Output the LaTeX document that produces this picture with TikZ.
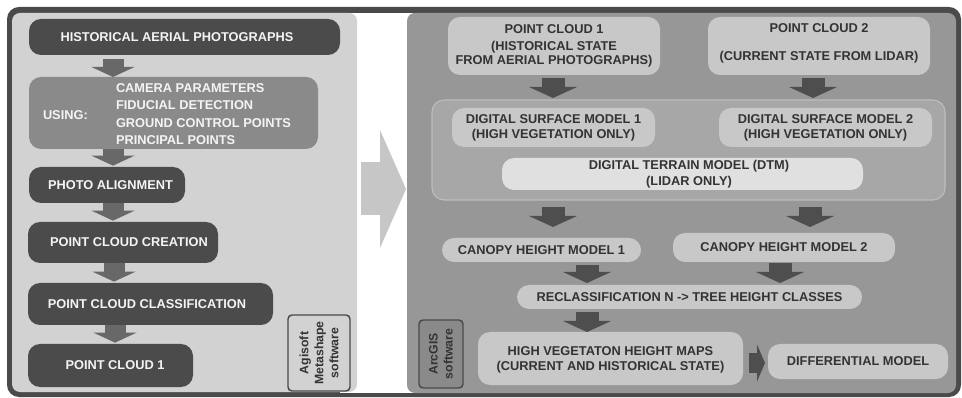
\documentclass[tikz,border=0pt]{standalone}
\usepackage{fontspec}
\setmainfont{Liberation Sans}
\usetikzlibrary{arrows.meta,fit}

\definecolor{frame}{HTML}{4A4A4A}
\definecolor{lpanel}{HTML}{D2D2D2}
\definecolor{rpanel}{HTML}{979797}
\definecolor{dbox}{HTML}{4B4B4B}
\definecolor{mbox}{HTML}{8A8A8A}
\definecolor{larr}{HTML}{686868}
\definecolor{rarr}{HTML}{4E4E4E}
\definecolor{lbox}{HTML}{C8C8C8}
\definecolor{grp}{HTML}{A7A7A7}
\definecolor{grpline}{HTML}{BDBDBD}
\definecolor{dtmfill}{HTML}{E0E0E0}
\definecolor{bigarr}{HTML}{C6C6C6}
\definecolor{ink}{HTML}{333333}
\definecolor{paper}{HTML}{F4F4F4}

\newcommand\fs[1]{\fontsize{9.6}{#1}\selectfont\bfseries}

\begin{document}
\begin{tikzpicture}[x=0.75pt,y=-0.75pt,
  every node/.style={inner sep=0pt,outer sep=0pt},
  darkbox/.style={rounded corners=9pt,fill=dbox},
  litebox/.style={rounded corners=9pt,fill=lbox},
  wtxt/.style={align=center,text=paper,font=\fs{11.5pt}},
  dtxt/.style={align=center,text=ink,font=\fs{11.5pt}},
  tagbox/.style={rounded corners=3pt,draw=frame,line width=1.1pt},
  tagtext/.style={rotate=90,align=center,text=ink,
    font=\fontsize{9.2}{11.25pt}\selectfont\bfseries},
  larrow/.style={larr,line width=15.75pt,
    -{Triangle[width=32.25pt,length=7.5pt,line width=0pt]}},
  rarrow/.style={rarr,line width=17.25pt,
    -{Triangle[width=36pt,length=8.25pt,line width=0pt]}},
  sarrow/.style={rarr,line width=15pt,
    -{Triangle[width=27.75pt,length=6pt,line width=0pt]}},
  bigarrow/.style={bigarr,line width=39.75pt,
    -{Triangle[width=88.5pt,length=19.5pt,line width=0pt]}}]

\useasboundingbox (0,0) rectangle (962,398);

% outer frame and the two panels
\fill[frame,rounded corners=9pt] (7,7) rectangle (961,397);
\fill[white] (340,13) rectangle (425,393);
\node[fit={(12,13)(357,392)},fill=lpanel,rounded corners=6pt] (left) {};
\node[fit={(407,13)(956,393)},fill=rpanel,rounded corners=6pt] (right) {};

% arrow from the photogrammetry panel to the GIS panel
\draw[bigarrow,shorten <=3pt,shorten >=0.75pt]
  (left.east |- 0,189) -- (right.west |- 0,189);

% ---------------- photogrammetry workflow ----------------
\node[darkbox,fit={(29,19)(340,55)}] (hist) {};
\node[wtxt] (hist-t) at (177,0 |- hist.center) {HISTORICAL AERIAL PHOTOGRAPHS};

\node[fit={(29,77)(318,149)},fill=mbox,rounded corners=9pt] (using) {};
\node[wtxt,anchor=west] (uselbl) at (43,115) {USING:};
\node[wtxt,font=\fs{13pt},align=left,anchor=west] (uselist) at (116,114)
  {CAMERA PARAMETERS\\FIDUCIAL DETECTION\\GROUND CONTROL POINTS\\PRINCIPAL POINTS};

\node[darkbox,fit={(29,167)(185,203)}] (align) {};
\node[wtxt] (align-t) at (110.5,0 |- align.center) {PHOTO ALIGNMENT};

\node[darkbox,fit={(28,222)(218,263)}] (create) {};
\node[wtxt] (create-t) at (129,0 |- create.center) {POINT CLOUD CREATION};

\node[darkbox,fit={(28,283)(273,325)}] (classif) {};
\node[wtxt] (classif-t) at (147,0 |- classif.center) {POINT CLOUD CLASSIFICATION};

\node[darkbox,fit={(28,344)(193,387)}] (pcone) {};
\node[wtxt] (pcone-t) at (115,0 |- pcone.center) {POINT CLOUD 1};

\node[tagbox,fill=lpanel,fit={(288,315)(350,391)}] (agisoft) {};
\node[tagtext] (agisoft-t) at (agisoft.center) {Agisoft\\Metashape\\software};

\draw[larrow,shorten <=3pt] (113,0 |- hist.south) -- (113,0 |- using.north);
\draw[larrow,shorten >=1pt] (113,0 |- using.south) -- (113,0 |- align.north);
\draw[larrow,shorten >=1pt] (113,0 |- align.south) -- (113,0 |- create.north);
\draw[larrow,shorten >=1pt] (114,0 |- create.south) -- (114,0 |- classif.north);
\draw[larrow,shorten >=1pt] (115,0 |- classif.south) -- (115,0 |- pcone.north);

% ---------------- GIS workflow ----------------
\node[litebox,fit={(448,17)(660,75)}] (pca) {};
\node[dtxt,font=\fs{10.5pt}] (pca-t) at (pca.center)
  {POINT CLOUD 1\\[2.25pt](HISTORICAL STATE\\FROM AERIAL PHOTOGRAPHS)};
\node[litebox,fit={(708,17)(930,75)}] (pcb) {};
\node[dtxt,font=\fs{12pt}] (pcb-t) at ([yshift=2pt]pcb.center)
  {POINT CLOUD 2\\[9pt](CURRENT STATE FROM LIDAR)};

\node[fit={(432,100)(945,200)},fill=grp,draw=grpline,line width=0.8pt,
  rounded corners=9pt] (models) {};
\node[litebox,fit={(452,108)(655,147)}] (dsma) {};
\node[dtxt,font=\fs{11.25pt}] (dsma-t) at (dsma.center)
  {DIGITAL SURFACE MODEL 1\\(HIGH VEGETATION ONLY)};
\node[litebox,fit={(719,108)(932,147)}] (dsmb) {};
\node[dtxt,font=\fs{11.25pt}] (dsmb-t) at (dsmb.center)
  {DIGITAL SURFACE MODEL 2\\(HIGH VEGETATION ONLY)};
\node[litebox,fill=dtmfill,fit={(502,158)(863,190)}] (dtm) {};
\node[dtxt,font=\fs{12pt}] (dtm-t) at (689,0 |- dtm.center)
  {DIGITAL TERRAIN MODEL (DTM)\\(LIDAR ONLY)};

\node[litebox,fit={(442,238)(641,262)}] (chma) {};
\node[dtxt] (chma-t) at (chma.center) {CANOPY HEIGHT MODEL 1};
\node[litebox,fit={(673,233)(895,262)}] (chmb) {};
\node[dtxt] (chmb-t) at (chmb.center) {CANOPY HEIGHT MODEL 2};
\node[litebox,fit={(517,285)(862,309)}] (recl) {};
\node[dtxt] (recl-t) at (recl.center) {RECLASSIFICATION N -> TREE HEIGHT CLASSES};
\node[litebox,fit={(478,332)(743,385)}] (hvh) {};
\node[dtxt,font=\fs{11.25pt}] (hvh-t) at ([yshift=-1pt]hvh.center)
  {HIGH VEGETATON HEIGHT MAPS\\(CURRENT AND HISTORICAL STATE)};
\node[litebox,fit={(768,344)(948,379)}] (diff) {};
\node[dtxt] (diff-t) at (diff.center) {DIFFERENTIAL MODEL};

\node[tagbox,fill=mbox,fit={(419,320)(463,388)}] (arcgis) {};
\node[tagtext] (arcgis-t) at (arcgis.center) {ArcGIS\\software};

\draw[rarrow,shorten <=2.25pt,shorten >=1.5pt] (553,0 |- pca.south) -- (553,0 |- models.north);
\draw[rarrow,shorten <=2.25pt,shorten >=1.5pt] (813,0 |- pcb.south) -- (813,0 |- models.north);
\draw[rarrow,shorten <=5.25pt,shorten >=8.25pt] (553,0 |- models.south) -- (553,0 |- chma.north);
\draw[rarrow,shorten <=5.25pt,shorten >=4.5pt] (810,0 |- models.south) -- (810,0 |- chmb.north);
\draw[rarrow,shorten <=2.25pt,shorten >=1.5pt] (587,0 |- chma.south) -- (587,0 |- recl.north);
\draw[rarrow,shorten <=0.75pt,shorten >=1.5pt] (780,0 |- chmb.south) -- (780,0 |- recl.north);
\draw[rarrow,shorten <=2.25pt] (587,0 |- recl.south) -- (587,0 |- hvh.north);
\draw[sarrow,shorten <=4.5pt,shorten >=2.25pt] (hvh.east |- 0,363) -- (diff.west |- 0,363);

\end{tikzpicture}
\end{document}
